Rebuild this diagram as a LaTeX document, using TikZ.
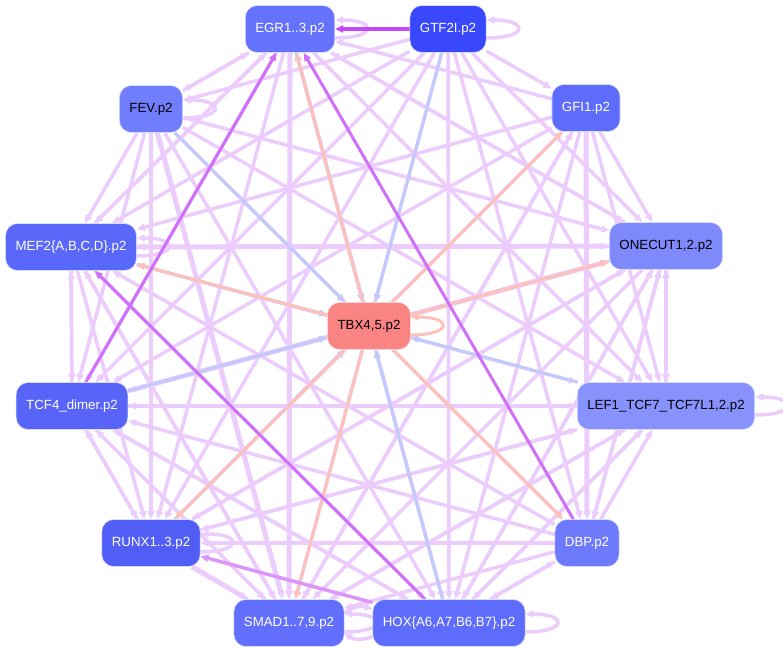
\documentclass[tikz,border=0pt]{standalone}
\usepackage{fontspec}
\setmainfont{Liberation Sans}
\usetikzlibrary{arrows.meta,backgrounds}

% colours of nodes and links
\definecolor{lpurple}{RGB}{236,204,252}
\definecolor{mpurple}{RGB}{220,150,250}
\definecolor{dpurple}{RGB}{208,112,250}
\definecolor{spurple}{RGB}{196,72,250}
\definecolor{lblue}{RGB}{194,202,252}
\definecolor{lsalmon}{RGB}{252,194,186}
\definecolor{nodeline}{RGB}{214,220,252}

\begin{document}
\begin{tikzpicture}[
    x=1pt, y=-1pt,
    tf/.style={draw=nodeline, line width=0.6pt, rounded corners=12pt, minimum height=47pt,
        inner xsep=10pt, font=\fontsize{13.3}{15}\selectfont, text=white},
    link/.style={draw=lpurple, line width=3.5pt, -{Triangle[length=8pt,width=7pt]}},
    thicklink/.style={link, line width=5pt},
    selfloop/.style={link, out=0, in=0, looseness=6},
]
\useasboundingbox (0,0) rectangle (783,653);

% Nodes round the circle
\node[tf, fill={rgb,255:red,100;green,114;blue,252}] (egr) at (290,29) {EGR1..3.p2};
\node[tf, fill={rgb,255:red,56;green,72;blue,250}] (gtf) at (448,29) {GTF2I.p2};
\node[tf, fill={rgb,255:red,112;green,126;blue,252}, text=black] (fev) at (151,109) {FEV.p2};
\node[tf, fill={rgb,255:red,94;green,108;blue,252}] (gfi) at (586,108) {GFI1.p2};
\node[tf, fill={rgb,255:red,90;green,104;blue,250}] (mef) at (71,247) {MEF2\{A,B,C,D\}.p2};
\node[tf, fill={rgb,255:red,126;green,138;blue,252}, text=black] (onecut) at (666,246) {ONECUT1,2.p2};
\node[tf, fill={rgb,255:red,250;green,132;blue,132}, draw={rgb,255:red,252;green,214;blue,214}, text=black] (tbx) at (369,326) {TBX4,5.p2};
\node[tf, fill={rgb,255:red,88;green,100;blue,248}] (tcf) at (72,406) {TCF4\_dimer.p2};
\node[tf, fill={rgb,255:red,136;green,146;blue,252}, text=black] (lef) at (666,406) {LEF1\_TCF7\_TCF7L1,2.p2};
\node[tf, fill={rgb,255:red,80;green,94;blue,246}] (runx) at (151,543) {RUNX1..3.p2};
\node[tf, fill={rgb,255:red,110;green,122;blue,252}] (dbp) at (587,543) {DBP.p2};
\node[tf, fill={rgb,255:red,98;green,110;blue,252}] (smad) at (289,623) {SMAD1..7,9.p2};
\node[tf, fill={rgb,255:red,94;green,108;blue,252}] (hox) at (449,623) {HOX\{A6,A7,B6,B7\}.p2};

\begin{scope}[on background layer]
% light links
\foreach \a/\b in {gtf/fev, gtf/gfi, gtf/mef, gtf/onecut, gtf/tcf, gtf/lef, gtf/runx, gtf/dbp,
    gtf/smad, gtf/hox, egr/mef, egr/tcf, egr/runx, egr/hox, egr/onecut, egr/lef, egr/fev,
    fev/mef, fev/tcf, fev/runx, fev/hox, fev/dbp, fev/lef, fev/onecut, fev/egr,
    gfi/egr, gfi/mef, gfi/onecut, gfi/tcf, gfi/runx, gfi/smad, gfi/hox, gfi/lef,
    mef/tcf, mef/runx, mef/smad, mef/hox, mef/lef, mef/egr,
    onecut/mef, onecut/tcf, onecut/runx, onecut/smad, onecut/hox, onecut/egr, onecut/lef, onecut/dbp,
    tcf/mef, tcf/runx, tcf/smad, tcf/hox, tcf/lef,
    lef/tcf, lef/runx, lef/smad, lef/hox, lef/onecut,
    runx/tcf, runx/lef, runx/onecut,
    dbp/runx, dbp/smad, dbp/hox, dbp/lef, dbp/tcf, dbp/mef, dbp/onecut,
    smad/runx, smad/mef, smad/tcf, smad/lef, smad/gfi,
    hox/lef, hox/onecut, hox/dbp, hox/tcf, hox/egr}
    \draw[link] (\a) -- (\b);

% heavier light links
\foreach \a/\b in {egr/smad, fev/smad, gfi/dbp, mef/onecut, tcf/onecut, runx/smad}
    \draw[thicklink] (\a) -- (\b);

% pair of links below
\draw[link] (smad.10) to[bend left=30] (hox.170);
\draw[link] (hox.190) to[bend left=30] (smad.350);

% self loops
\foreach \n in {egr, gtf, fev, mef, lef, runx, smad, hox}
    \draw[selfloop] ([yshift=-9pt]\n.east) to ([yshift=9pt]\n.east);

% blue links
\foreach \a/\b in {gtf/tbx, fev/tbx, mef/tbx, tcf/tbx, lef/tbx, hox/tbx, runx/tbx, egr/tbx}
    \draw[link, draw=lblue, line width=3pt] (\a) -- (\b);

% salmon links
\foreach \a/\b in {tbx/egr, tbx/gfi, tbx/onecut, tbx/mef, tbx/dbp, tbx/smad, tbx/runx}
    \draw[link, draw=lsalmon, line width=3pt] (\a) -- (\b);
\draw[selfloop, draw=lsalmon, line width=3pt] ([yshift=-9pt]tbx.east) to ([yshift=9pt]tbx.east);

% darker links
\draw[link, draw=mpurple] (hox) -- (runx);
\draw[link, draw=dpurple, line width=3pt] (dbp) -- (egr);
\draw[link, draw=dpurple, line width=3pt] (hox) -- (mef);
\draw[link, draw=dpurple, line width=3pt] (tcf) -- (egr);
\draw[link, draw=spurple, line width=4pt] (gtf) -- (egr);
\end{scope}

\end{tikzpicture}
\end{document}
